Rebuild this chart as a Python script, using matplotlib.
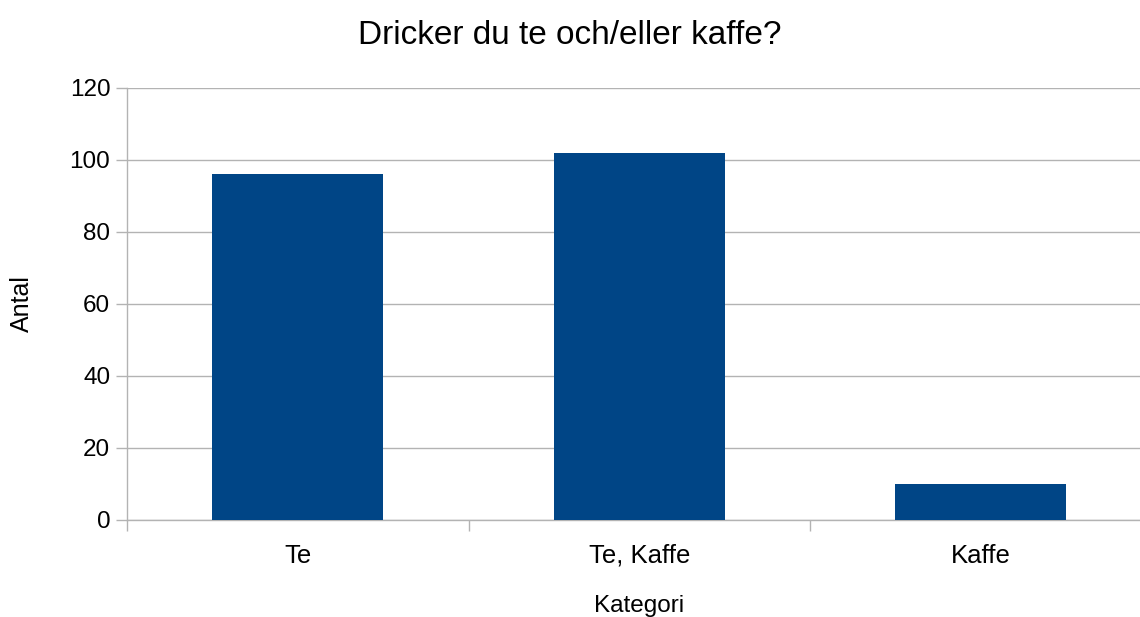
import matplotlib
matplotlib.use("Agg")
import matplotlib.pyplot as plt
import numpy as np

categories = ["Te", "Te, Kaffe", "Kaffe"]
counts = [96, 102, 10]
yticks = [0, 20, 40, 60, 80, 100, 120]

plt.rcParams["font.family"] = ["Liberation Sans", "DejaVu Sans"]

fig = plt.figure(figsize=(11.4, 6.17), dpi=100)
# plot area runs a bit past the right edge of the image, like the original export
ax = fig.add_axes([127/1140, 1 - 520/617, 1024.5/1140, (520 - 88)/617])

x = np.arange(len(categories))
ax.bar(x, counts, width=0.5, color="#004586", zorder=3)

ax.set_xlim(-0.5, len(categories) - 0.5)
ax.set_ylim(0, 120)
ax.set_yticks(yticks)
ax.grid(axis="y", color="#b3b3b3", linewidth=1, zorder=0)

ax.set_xticks(x)
ax.set_xticklabels(categories)
ax.set_xticks(np.arange(len(categories) + 1) - 0.5, minor=True)
ax.tick_params(axis="x", which="major", length=0, pad=17, labelsize=18.5)
ax.tick_params(axis="x", which="minor", length=8, color="#b3b3b3", width=1)
ax.tick_params(axis="y", length=8, color="#b3b3b3", width=1, labelsize=17.5, pad=4)

for s in ["top", "right"]:
    ax.spines[s].set_visible(False)
for s in ["left", "bottom"]:
    ax.spines[s].set_color("#b3b3b3")
    ax.spines[s].set_linewidth(1)

ax.set_xlabel("Kategori", fontsize=17.5, labelpad=20)
ax.set_ylabel("Antal", fontsize=18, labelpad=26)
fig.suptitle("Dricker du te och/eller kaffe?", fontsize=24, x=0.5, y=0.968)

fig.savefig("out.png", dpi=100)
